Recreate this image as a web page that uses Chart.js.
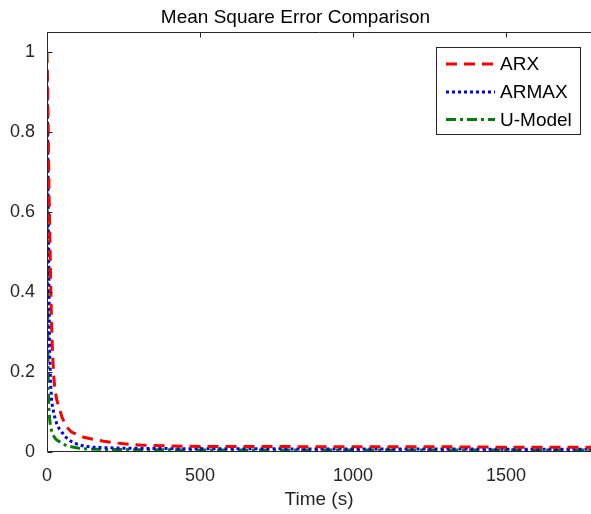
<!DOCTYPE html>
<html>
<head>
<meta charset="utf-8">
<script src="https://cdn.jsdelivr.net/npm/chart.js@4/dist/chart.umd.min.js"></script>
<style>
  html, body { margin: 0; padding: 0; background: #fff; }
  #wrap { width: 591px; height: 514px; position: relative; }
</style>
</head>
<body>
<div id="wrap"><canvas id="myChart" width="591" height="514"></canvas></div>
<script>
// time samples (s)
var timeS = [0, 2, 4, 6, 9, 12, 15, 18, 22, 26, 32, 40, 50, 64, 80, 100, 120, 150, 185, 220, 260, 310, 400, 500, 700, 900, 1100, 1300, 1500, 1778];

var arxMse = [1.0, 0.93, 0.8, 0.68, 0.56, 0.42, 0.32, 0.25, 0.19, 0.155, 0.13, 0.11, 0.085, 0.063, 0.05, 0.043, 0.037, 0.032, 0.027, 0.023, 0.02, 0.017, 0.015, 0.014, 0.014, 0.013, 0.013, 0.013, 0.012, 0.012];
var armaxMse = [0.93, 0.8, 0.62, 0.45, 0.24, 0.17, 0.13, 0.113, 0.098, 0.085, 0.07, 0.058, 0.048, 0.035, 0.026, 0.019, 0.015, 0.012, 0.011, 0.01, 0.0095, 0.009, 0.0085, 0.008, 0.008, 0.0075, 0.0075, 0.0075, 0.007, 0.007];
var uModelMse = [0.67, 0.4, 0.16, 0.11, 0.08, 0.062, 0.053, 0.046, 0.04, 0.035, 0.03, 0.026, 0.021, 0.016, 0.013, 0.01, 0.008, 0.007, 0.0065, 0.006, 0.006, 0.0055, 0.0055, 0.005, 0.005, 0.005, 0.005, 0.005, 0.005, 0.005];

var seriesNames = ['ARX', 'ARMAX', 'U-Model'];
var xTicks = [0, 500, 1000, 1500];
var yTicks = [0, 0.2, 0.4, 0.6, 0.8, 1];

var FONT = '"Liberation Sans", Arial, Helvetica, sans-serif';
var AXIS_COLOR = '#262626';

function toPoints(values) {
    return values.map(function (v, i) { return { x: timeS[i], y: v }; });
}

// box, inward ticks and legend in matlab style (right edge is cut off in the figure)
var matlabFrame = {
    id: 'matlabFrame',
    afterDatasetsDraw: function (chart) {
        var ctx = chart.ctx;
        var a = chart.chartArea;
        var xs = chart.scales.x, ys = chart.scales.y;
        var L = Math.round(a.left) + 0.5, R = Math.round(a.right) + 1;
        var T = Math.round(a.top) + 0.5, B = Math.round(a.bottom) - 0.5;
        ctx.save();
        ctx.strokeStyle = AXIS_COLOR;
        ctx.lineWidth = 1;
        ctx.setLineDash([]);
        ctx.beginPath();
        ctx.moveTo(R, T); ctx.lineTo(L, T); ctx.lineTo(L, B); ctx.lineTo(R, B);
        xTicks.forEach(function (t) {
            var px = Math.round(xs.getPixelForValue(t)) + 0.5;
            ctx.moveTo(px, B); ctx.lineTo(px, B - 5);
            ctx.moveTo(px, T); ctx.lineTo(px, T + 5);
        });
        yTicks.forEach(function (t) {
            var py = Math.round(ys.getPixelForValue(t)) + 0.5;
            ctx.moveTo(L, py); ctx.lineTo(L + 5, py);
        });
        ctx.stroke();

        // legend
        var lx = 436.5, ly = 47.5, lw = 144, lh = 87;
        ctx.fillStyle = '#fff';
        ctx.fillRect(lx, ly, lw, lh);
        ctx.strokeStyle = AXIS_COLOR;
        ctx.strokeRect(lx, ly, lw, lh);
        var rows = [64, 92, 119.5];
        chart.data.datasets.forEach(function (ds, i) {
            ctx.beginPath();
            ctx.strokeStyle = ds.borderColor;
            ctx.lineWidth = ds.borderWidth;
            ctx.setLineDash(ds.borderDash || []);
            ctx.moveTo(446, rows[i]);
            ctx.lineTo(495, rows[i]);
            ctx.stroke();
            ctx.setLineDash([]);
            ctx.fillStyle = '#000';
            ctx.font = '19px ' + FONT;
            ctx.textAlign = 'left';
            ctx.textBaseline = 'middle';
            ctx.fillText(ds.label, 500, rows[i] + 1);
        });
        ctx.restore();
    }
};

var ctx = document.getElementById('myChart').getContext('2d');
var myChart = new Chart(ctx, {
    type: 'line',
    data: {
        datasets: [{
            label: seriesNames[0],
            data: toPoints(arxMse),
            borderColor: '#ff0000',
            borderWidth: 3,
            borderDash: [11, 7],
            pointRadius: 0,
            fill: false
        }, {
            label: seriesNames[1],
            data: toPoints(armaxMse),
            borderColor: '#0000ff',
            borderWidth: 3,
            borderDash: [3, 3],
            pointRadius: 0,
            fill: false
        }, {
            label: seriesNames[2],
            data: toPoints(uModelMse),
            borderColor: '#008000',
            borderWidth: 3,
            borderDash: [10, 4, 3, 4],
            pointRadius: 0,
            fill: false
        }]
    },
    options: {
        responsive: false,
        animation: false,
        layout: { padding: { left: 0, right: 0, top: 0, bottom: 0 } },
        plugins: {
            legend: { display: false },
            tooltip: { enabled: false },
            title: {
                display: true,
                text: 'Mean Square Error Comparison',
                color: '#000',
                font: { family: FONT, size: 19, weight: 'normal' },
                padding: { top: 6, bottom: 3 }
            }
        },
        scales: {
            x: {
                type: 'linear',
                min: 0,
                max: 1778,
                afterBuildTicks: function (scale) {
                    scale.ticks = xTicks.map(function (v) { return { value: v }; });
                },
                afterFit: function (scale) { scale.height = 62; },
                grid: { display: false, drawTicks: false },
                border: { display: false },
                ticks: {
                    color: AXIS_COLOR,
                    font: { family: FONT, size: 18 },
                    padding: 13,
                    maxRotation: 0,
                    callback: function (v) { return String(v); }
                },
                title: {
                    display: true,
                    text: 'Time (s)',
                    color: AXIS_COLOR,
                    font: { family: FONT, size: 19 },
                    padding: { top: 0, bottom: 3 }
                }
            },
            y: {
                min: 0,
                max: 1.05,
                afterBuildTicks: function (scale) {
                    scale.ticks = yTicks.map(function (v) { return { value: v }; });
                },
                afterFit: function (scale) { scale.width = 47; },
                grid: { display: false, drawTicks: false },
                border: { display: false },
                ticks: {
                    color: AXIS_COLOR,
                    font: { family: FONT, size: 18 },
                    padding: 12,
                    callback: function (v) { return String(v); }
                }
            }
        }
    },
    plugins: [matlabFrame]
});
</script>
</body>
</html>
